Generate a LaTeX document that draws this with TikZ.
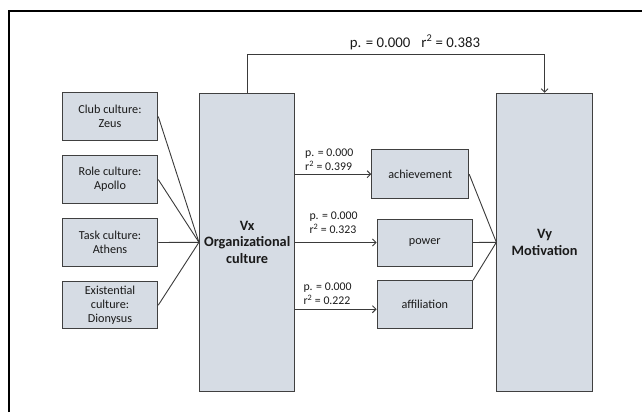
\documentclass[tikz,border=0pt]{standalone}
\usepackage{fontspec}
\setmainfont{Carlito}
\usetikzlibrary{arrows.meta}
\definecolor{boxfill}{HTML}{D6DCE4}
\definecolor{boxline}{HTML}{404040}
\definecolor{connline}{HTML}{3A3A3A}
\definecolor{txt}{HTML}{1A1A1A}
\begin{document}
\begin{tikzpicture}[x=1pt,y=-1pt,
  box/.style={draw=boxline, fill=boxfill, line width=1pt, minimum width=95.5pt, minimum height=47.5pt, align=center, inner sep=2pt, text=txt, font=\fontsize{12.2}{14}\selectfont},
  bigbox/.style={box, minimum height=298pt, font=\fontsize{14.3}{16.3}\selectfont\bfseries},
  conn/.style={draw=connline, line width=0.9pt},
  arr/.style={conn, -{Straight Barb[length=3.5pt,width=7pt]}},
  lab/.style={font=\fontsize{11.8}{14.4}\selectfont, align=left, anchor=west, inner sep=0pt, text=txt}]
\useasboundingbox (0,0) rectangle (642,412);
% frame
\draw[line width=2pt, black] (9,412) -- (9,11) -- (642,11);
% left boxes
\node[box] (club) at (110,116.5) {Club culture:\\Zeus};
\node[box] (role) at (110,179.5) {Role culture:\\Apollo};
\node[box] (task) at (110,242.5) {Task culture:\\Athens};
\node[box] (exist) at (110,305.2) {Existential\\culture:\\Dionysus};
% main boxes
\node[bigbox] (vx) at (247.2,242.3) {Vx\\Organizational\\culture};
\node[bigbox] (vy) at (544.6,242.3) {Vy\\Motivation};
% middle boxes
\node[box, minimum width=97pt, minimum height=48.5pt] (ach) at (420.2,174.2) {achievement};
\node[box, minimum height=47pt] (pow) at (424.8,242.5) {power};
\node[box, minimum height=48pt] (aff) at (424.8,304.7) {affiliation};
% left connectors
\foreach \n in {club,role,task,exist} \draw[conn] (\n.east) -- (vx.west);
% right connectors
\draw[conn] (ach.east) -- (vy.west);
\draw[conn] (pow.east) -- (vy.west);
\draw[conn] (aff.north east) -- (vy.west);
% arrows from Vx
\draw[arr] (vx.east |- ach.west) -- (ach.west);
\draw[arr] (vx.east |- pow.west) -- (pow.west);
\coordinate (affin) at ([yshift=-4.5pt]aff.west);
\draw[arr] (vx.east |- affin) -- (affin);
% top connector
\coordinate (topl) at (247.2,54.7);
\coordinate (topr) at (544.6,54.7);
\draw[arr] (vx.north) -- (topl) -- (topr) -- (vy.north);
% labels
\node[font=\fontsize{14.8}{18}\selectfont, text=txt, inner sep=0pt] (toplab) at (415,42.3) {p. = 0.000\hspace{0.75em}r\textsuperscript{2} = 0.383};
\node[lab] (l1) at (305,159.5) {p. = 0.000\\r\textsuperscript{2} = 0.399};
\node[lab] (l2) at (309.3,222.8) {p. = 0.000\\r\textsuperscript{2} = 0.323};
\node[lab] (l3) at (303.3,293.8) {p. = 0.000\\r\textsuperscript{2} = 0.222};
\end{tikzpicture}
\end{document}
